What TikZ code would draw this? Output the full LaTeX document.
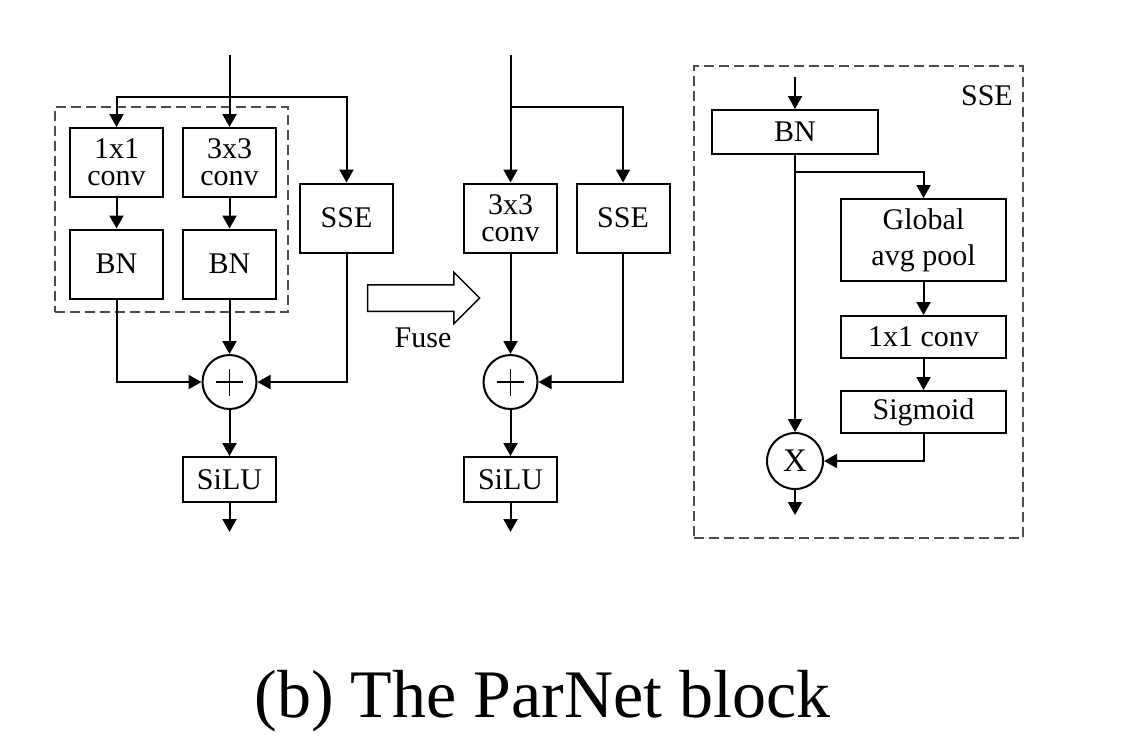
\documentclass[tikz,border=0pt]{standalone}
\usepackage{fontspec}
\setmainfont{Liberation Serif}
\usetikzlibrary{shapes.geometric, shapes.arrows, arrows.meta}
\tikzset{tri/.tip={Triangle[length=6.5pt, width=7pt]}}
\tikzstyle{block} = [rectangle, minimum width=46.5pt, minimum height=34.5pt, text centered, align=center, draw=black,
inner sep=1pt, font=\fontsize{15pt}{13.5pt}\selectfont]
\tikzstyle{wideblock} = [block, minimum width=82.5pt, minimum height=21pt]
\tikzstyle{sumnode} = [circle, minimum size=27pt, inner sep=0pt, draw=black]
\tikzstyle{dashframe} = [rectangle, draw=black!70, dash pattern=on 5pt off 2.5pt, line width=0.8pt]

\begin{document}
\begin{tikzpicture}[x=0.5pt, y=-0.5pt, node distance=50pt, line width=1pt, font=\fontsize{15pt}{18pt}\selectfont]
    \useasboundingbox (0,0) rectangle (1143,746);

    % training-time block
    \node(conv1)[block] at (116.5,162.5) {1x1\\conv};
    \node(conv3)[block, right of=conv1, xshift=6.5pt] {3x3\\conv};
    \node(bn1)[block, below of=conv1, yshift=-0.75pt] {BN};
    \node(bn3)[block, below of=conv3, yshift=-0.75pt] {BN};
    \node(sse1)[block, right of=conv3, xshift=8.5pt, yshift=-27.75pt] {SSE};
    \node(plus1)[sumnode, below of=bn3, yshift=-9pt, path picture={
        \draw[line width=0.6pt] ([xshift=6.75pt]path picture bounding box.west) -- ([xshift=-6.75pt]path picture bounding box.east)
        ([yshift=-6.75pt]path picture bounding box.north) -- ([yshift=6.75pt]path picture bounding box.south);}] {};
    \node(silu1)[block, minimum height=22.5pt, below of=plus1, yshift=1.25pt] {SiLU};
    \node(branchframe)[dashframe, minimum width=116.5pt, minimum height=102.5pt] at (171.5,209.5) {};
    \coordinate[above of=conv3, node distance=53.75pt] (in1);
    \coordinate[below of=in1, node distance=21pt] (br1);
    \coordinate[below of=silu1, node distance=26.25pt] (out1);

    % fuse
    \node(fusearrow)[single arrow, draw=black, line width=0.75pt, minimum height=56pt, inner sep=0pt,
        single arrow head extend=6.25pt, single arrow tip angle=90, single arrow head indent=0pt] at (417,298) {\rule{0pt}{12.5pt}};
    \node(fuselabel)[node distance=19.75pt, below of=fusearrow, xshift=3pt] {Fuse};

    % inference-time block
    \node(conv2)[block, right of=sse1, xshift=32pt] {3x3\\conv};
    \node(sse2)[block, right of=conv2, xshift=6.25pt] {SSE};
    \node(plus2)[sumnode, below of=conv2, yshift=-32pt, path picture={
        \draw[line width=0.6pt] ([xshift=6.75pt]path picture bounding box.west) -- ([xshift=-6.75pt]path picture bounding box.east)
        ([yshift=-6.75pt]path picture bounding box.north) -- ([yshift=6.75pt]path picture bounding box.south);}] {};
    \node(silu2)[block, minimum height=22.5pt, below of=plus2, yshift=1.25pt] {SiLU};
    \coordinate[above of=conv2, node distance=81.5pt] (in2);
    \coordinate[below of=in2, node distance=26pt] (br2);
    \coordinate[below of=silu2, node distance=26.25pt] (out2);

    % SSE detail
    \node(sseframe)[dashframe, minimum width=164.5pt, minimum height=236pt] at (858.5,302) {};
    \node(ssetitle)[anchor=north east, inner sep=0pt, xshift=-5pt, yshift=-9.5pt] at (sseframe.north east) {SSE};
    \node(bnS)[wideblock, minimum width=83pt, minimum height=22pt, right of=sse2, xshift=36pt, yshift=43pt] {BN};
    \node(gap)[wideblock, minimum height=41pt, right of=bnS, xshift=14.25pt, yshift=-54pt,
        font=\fontsize{15pt}{18pt}\selectfont] {Global\\avg pool};
    \node(conv1S)[wideblock, below of=gap, yshift=1.5pt] {1x1 conv};
    \node(sig)[wideblock, below of=conv1S, yshift=12.5pt] {Sigmoid};
    \node(mul)[sumnode, minimum size=28pt, below of=bnS, yshift=-114.5pt, font=\fontsize{16.5pt}{18pt}\selectfont] {X};
    \coordinate[above of=bnS, node distance=27.5pt] (inS);
    \coordinate[below of=bnS, node distance=20pt] (brS);
    \coordinate[below of=mul, node distance=27pt] (outS);

    \node(caption)[anchor=base, font=\fontsize{34pt}{40pt}\selectfont] at (542.5,717) {(b) The ParNet block};

    \draw[->,>=tri] (in1) -- (conv3);
    \draw[->,>=tri] (br1) -| (conv1);
    \draw[->,>=tri] (br1) -| (sse1);
    \draw[->,>=tri] (conv1) -- (bn1);
    \draw[->,>=tri] (conv3) -- (bn3);
    \draw[->,>=tri] (bn1) |- (plus1);
    \draw[->,>=tri] (bn3) -- (plus1);
    \draw[->,>=tri] (sse1) |- (plus1);
    \draw[->,>=tri] (plus1) -- (silu1);
    \draw[->,>=tri] (silu1) -- (out1);

    \draw[->,>=tri] (in2) -- (conv2);
    \draw[->,>=tri] (br2) -| (sse2);
    \draw[->,>=tri] (conv2) -- (plus2);
    \draw[->,>=tri] (sse2) |- (plus2);
    \draw[->,>=tri] (plus2) -- (silu2);
    \draw[->,>=tri] (silu2) -- (out2);

    \draw[->,>=tri] (inS) -- (bnS);
    \draw[->,>=tri] (bnS) -- (mul);
    \draw[->,>=tri] (brS) -| (gap);
    \draw[->,>=tri] (gap) -- (conv1S);
    \draw[->,>=tri] (conv1S) -- (sig);
    \draw[->,>=tri] (sig) |- (mul);
    \draw[->,>=tri] (mul) -- (outS);
\end{tikzpicture}
\end{document}
